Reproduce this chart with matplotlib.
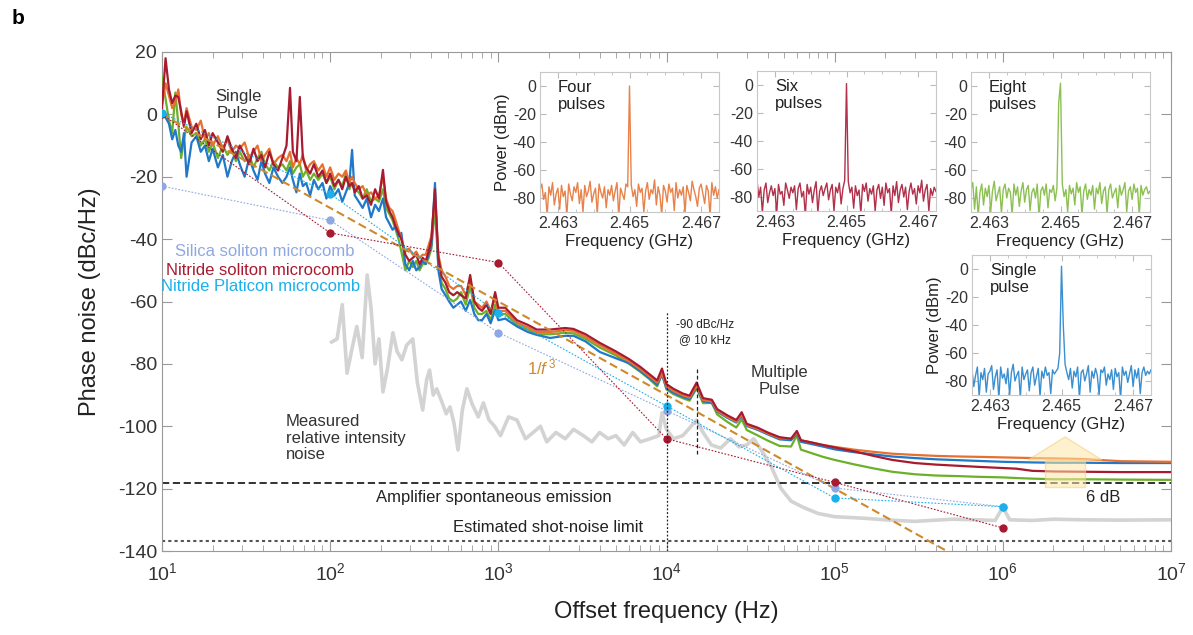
import numpy as np
import matplotlib
matplotlib.use("Agg")
import matplotlib.pyplot as plt
from matplotlib.patches import Polygon, Rectangle
from matplotlib.ticker import LogLocator, NullFormatter, MultipleLocator

plt.rcParams['font.family'] = ['Liberation Sans', 'DejaVu Sans']
plt.rcParams['mathtext.fontset'] = 'custom'
plt.rcParams['mathtext.rm'] = 'Liberation Sans'
plt.rcParams['mathtext.it'] = 'Liberation Sans:italic'
plt.rcParams['axes.unicode_minus'] = False

# offset frequency grid (Hz) shared by the four measured traces
freq = [10, 10.5, 11, 11.5, 12, 12.5, 13, 13.5, 14, 15,
        16, 17, 18, 19, 20, 21.5, 23, 24.5, 26, 27.5,
        29, 31, 33, 35, 37, 39, 41, 43.5, 46, 49,
        52, 55, 57.7, 60, 63, 66, 68.8, 72, 76, 80,
        85, 90, 95, 100, 106, 112, 118, 124, 130, 135,
        140, 148, 156, 165, 175, 185, 195, 206, 215, 225,
        235, 245, 255, 265, 280, 295, 310, 325, 340, 355,
        370, 385, 400, 420, 440, 460, 485, 510, 540, 570,
        600, 640, 680, 720, 760, 800, 850, 900, 957, 1000,
        1100, 1290, 1500, 1690, 2030, 2500, 2800, 3300, 4020, 5000,
        6000, 7000, 8000, 8800, 9400, 10000, 11000, 12500, 13700, 15100,
        16500, 18600, 20000, 23000, 26000, 28000, 30000, 35000, 40000, 47000,
        55000, 59600, 63000, 70000, 85000, 1e5, 1.3e5, 1.7e5, 2.2e5, 3e5,
        4e5, 5.5e5, 7e5, 1e6, 1.2e6, 1.5e6, 2e6, 3e6, 5e6, 1e7]

# single pulse (blue)
pn_single = [1, -1, -3, -8, -5, -10, -12, -6, -20, -9,
             -7, -12, -10, -15, -11, -17, -13, -20, -15, -12,
             -16, -20, -14, -18, -21, -15, -19, -22, -17, -20,
             -22, -20, -17, -21, -25, -19, -23, -22, -26, -21,
             -24, -22, -27, -23, -26, -24, -28, -25, -22, -11.4,
             -26, -28, -30, -27, -33, -29, -31, -27, -33, -35,
             -37, -36, -39, -38, -48, -50, -47, -50, -49, -47,
             -48, -45, -42, -22, -50, -56, -58, -60, -62, -61,
             -60, -63, -59.5, -64, -66, -66, -64, -67, -62.7, -66,
             -65.5, -68, -69.8, -70.7, -71.7, -71, -71, -72.8, -76.2, -78.2,
             -79.8, -82.3, -84.8, -86.7, -83.5, -87.8, -89.3, -90.6, -91.3, -87.5,
             -92, -92.5, -95.3, -97.3, -98.8, -96.8, -99.9, -101.2, -102.6, -104.2,
             -104.5, -102.5, -105, -105.5, -106.5, -107.4, -108.3, -109, -109.7, -110.2,
             -110.6, -110.9, -111.1, -111.4, -111.5, -111.6, -111.7, -111.7, -111.8, -111.8]

# four pulses (orange)
pn_four = [3, 10, 6, 2, 4, 8, 0, -3, 2, -4,
           -5, -2, -8, -6, -10, -7, -11, -8, -12, -10,
           -11, -9, -14, -12, -10, -15, -13, -11, -16, -14,
           -13, -15, -12, -17, -14, -16, -13, -18, -16, -15,
           -18, -16, -20, -17, -21, -19, -20, -18, -22, -20,
           -22, -24, -23, -26, -25, -27, -26, -20, -27, -30,
           -31, -34, -37, -40, -44, -43, -45, -44, -46, -45,
           -45, -42, -39, -27, -45, -50, -52, -55, -56, -55,
           -55, -58, -53, -60, -61, -62, -60, -63, -59, -63,
           -63, -66.8, -68.3, -69.8, -69.8, -69.2, -69.4, -71.3, -74, -76.7,
           -79.2, -81.7, -84.2, -86, -83, -87.2, -88.7, -90.1, -90.8, -87,
           -91.6, -92, -95, -97, -98.5, -96.3, -99.6, -100.9, -102.3, -103.8,
           -104, -102, -104.5, -105, -106, -106.6, -107.5, -108.2, -108.8, -109.2,
           -109.5, -109.7, -109.8, -110, -110.1, -110.2, -110.3, -110.5, -111.2, -111.4]

# six pulses (dark red)
pn_six = [2, 18, 8, 3.6, 6, 5.6, 1, -4, 1, -6,
          -3, -8, -5, -10, -6, -9, -12, -7, -11, -14,
          -10, -13, -16, -11, -15, -13, -17, -12, -16, -18,
          -14, -10, 8.5, -12, -15, 5.6, -14, -17, -19, -16,
          -20, -18, -22, -19, -23, -21, -24, -20, -23, -22,
          -25, -23, -27, -26, -29, -24, -27, -17.8, -28, -31,
          -33, -36, -38, -40, -45, -47, -46, -45, -48, -46,
          -47, -44, -40, -24, -46, -52, -54, -57, -58, -57,
          -58, -59, -51.5, -60, -62, -63, -61, -64, -57, -62,
          -62, -66, -67.5, -69, -69, -68.5, -68.8, -70.5, -73.3, -76,
          -78.5, -81, -83.5, -85.3, -81.5, -86.5, -88, -89.5, -90.2, -86,
          -91, -91.5, -94.5, -96.5, -98, -95.5, -99.2, -100.5, -102, -103.5,
          -104, -101.5, -104.5, -105, -106, -106.8, -108, -109.5, -110.8, -111.8,
          -112.3, -112.7, -113, -113.4, -113.6, -114.3, -114.5, -114.6, -114.7, -114.7]

# eight pulses (green)
pn_eight = [12, 5, -2, -6, 7, -3, -14, -8, -4, -7,
            -6, -10, -8, -12, -9, -14, -10, -13, -11, -15,
            -12, -15, -13, -17, -14, -12, -16, -18, -15, -17,
            -16, -18, -15, -19, -17, -16, -20, -18, -21, -19,
            -21, -19, -22, -20, -24, -21, -23, -19, -24, -22,
            -24, -25, -27, -24, -28, -27, -28, -24, -30, -32,
            -34, -37, -40, -44, -50, -47, -49, -47, -50, -48,
            -48, -46, -43, -30, -49, -54, -56, -59, -60, -59,
            -57, -61, -55, -62, -64, -64, -63, -66, -61, -64,
            -64, -67.5, -69, -70.5, -70.5, -70, -70.2, -72, -74.8, -77.3,
            -80, -82.6, -85.1, -87.2, -83.2, -88.2, -89.7, -91, -91.8, -87.8,
            -92.6, -92.5, -96.2, -98.6, -100.4, -97.8, -101.2, -103, -104.6, -106.3,
            -106.5, -103, -107.5, -108.3, -109.8, -110.8, -112.2, -113.5, -114.6, -115.4,
            -115.8, -116, -116.2, -116.4, -116.6, -116.8, -117, -117, -117.1, -117.2]

# measured relative intensity noise (grey)
rin_freq = [102, 110, 118, 126, 135, 144, 155, 166, 175, 185,
            195, 206, 220, 236, 250, 267, 285, 310, 330, 355,
            375, 390, 410, 430, 460, 490, 516, 545, 576, 610,
            650, 700, 760, 815, 880, 950, 1030, 1150, 1290, 1450,
            1610, 1780, 1940, 2200, 2500, 2800, 3200, 3600, 4000, 4500,
            5000, 5600, 6300, 7000, 8000, 9000, 9400, 10000, 11000, 12500,
            14000, 15100, 16500, 18500, 21000, 24000, 27000, 30000, 33000, 37000,
            42000, 48000, 55000, 65000, 80000, 1e5, 1.5e5, 2e5, 3e5, 5e5,
            7e5, 9e5, 1e6, 1.1e6, 1.5e6, 2e6, 3e6, 5e6, 1e7]
rin = [-73, -72, -61, -83, -75, -68, -78, -51.5, -62, -80,
       -72, -89, -81, -70, -76, -78.7, -74, -72, -86, -94.8,
       -85, -82, -90, -88, -92, -96, -93.8, -99, -107.6, -95,
       -88, -93, -97, -92.5, -98, -100, -103, -97, -98, -104,
       -102, -100, -105, -102, -104, -101, -103, -105, -102, -104,
       -103, -106, -102, -105, -104, -103, -95.7, -101, -104, -103,
       -100, -98, -102, -106, -107, -104, -106.6, -106, -104, -108,
       -113, -120, -124, -126, -128, -129, -129.5, -130, -130.5, -129.8,
       -130, -130.2, -126, -130, -130.2, -129.8, -130, -130.1, -130]

# literature comparison points
cmp_freq = [10, 100, 1000, 1e4, 1e5, 1e6]
silica_soliton = [-23, -34, -70, -95, -119.8, -125.8]
nitride_soliton = [0, -38, -47.5, -104, -118, -132.6]
nitride_platicon = [0.5, -25.5, -63.7, -93.5, -123, -125.8]

# 1/f^3 guide
f3_freq = [10, 1e6]
f3_level = [0, -150]

ase_level = -118.2
shot_level = -136.8
vline_freq = [1e4, 1.51e4]
vline_top = [-63, -81]
vline_bottom = [-140, -109]

decades = [10, 1e2, 1e3, 1e4, 1e5, 1e6, 1e7]

# inset spectra: offset from 2.465 GHz in kHz
offset_khz = [-2500, -2450, -2400, -2350, -2300, -2250, -2200, -2150, -2100, -2050,
              -2000, -1950, -1900, -1850, -1800, -1750, -1700, -1650, -1600, -1550,
              -1500, -1450, -1400, -1350, -1300, -1250, -1200, -1150, -1100, -1050,
              -1000, -950, -900, -850, -800, -750, -700, -650, -600, -550,
              -500, -450, -400, -350, -300, -250, -200, -150, -100, -50,
              0, 50, 100, 150, 200, 250, 300, 350, 400, 450,
              500, 550, 600, 650, 700, 750, 800, 850, 900, 950,
              1000, 1050, 1100, 1150, 1200, 1250, 1300, 1350, 1400, 1450,
              1500, 1550, 1600, 1650, 1700, 1750, 1800, 1850, 1900, 1950,
              2000, 2050, 2100, 2150, 2200, 2250, 2300, 2350, 2400, 2450,
              2500]

spec_four = [-74, -70, -81, -76, -92, -72, -78, -69, -85, -77,
             -73, -88, -71, -79, -75, -93, -70, -77, -82, -72,
             -76, -69, -84, -74, -90, -71, -79, -75, -68, -83,
             -77, -73, -91, -70, -76, -80, -72, -87, -74, -78,
             -71, -82, -75, -69, -93, -73, -77, -81, -70, -72,
             0, -71, -79, -74, -86, -70, -76, -73, -90, -75,
             -69, -81, -74, -77, -67, -85, -72, -78, -92, -71,
             -75, -83, -70, -76, -73, -89, -69, -80, -74, -78,
             -72, -91, -71, -76, -82, -68, -74, -79, -86, -73,
             -70, -77, -84, -71, -75, -93, -69, -78, -72, -80,
             -74]
spec_six = [-68, -80, -73, -91, -75, -70, -84, -77, -72, -79,
            -74, -92, -71, -78, -76, -86, -70, -75, -81, -73,
            -77, -72, -89, -74, -70, -80, -76, -93, -71, -78,
            -73, -84, -75, -69, -91, -76, -72, -79, -74, -70,
            -82, -75, -71, -90, -73, -77, -70, -85, -74, -68,
            1, -69, -77, -73, -88, -72, -79, -75, -92, -71,
            -76, -70, -83, -74, -78, -72, -90, -75, -71, -81,
            -73, -86, -70, -77, -74, -92, -72, -79, -69, -84,
            -75, -71, -80, -73, -89, -76, -70, -78, -74, -85,
            -72, -77, -68, -83, -75, -71, -90, -74, -79, -73,
            -76]
spec_eight = [-74, -69, -88, -72, -93, -76, -70, -85, -73, -79,
              -71, -90, -75, -68, -82, -77, -72, -91, -74, -70,
              -80, -73, -76, -92, -70, -78, -72, -86, -75, -69,
              -83, -74, -71, -89, -76, -73, -80, -70, -94, -75,
              -72, -78, -70, -87, -74, -76, -71, -82, -73, -12,
              2, -70, -79, -74, -90, -71, -77, -73, -85, -69,
              -76, -72, -92, -75, -70, -81, -74, -78, -71, -88,
              -73, -77, -69, -84, -75, -72, -91, -74, -70, -80,
              -76, -73, -87, -71, -78, -74, -69, -90, -75, -72,
              -81, -70, -76, -73, -92, -71, -78, -74, -72, -77,
              -75]
spec_single = [-72, -84, -76, -70, -91, -74, -79, -71, -88, -75,
               -73, -69, -86, -77, -72, -93, -70, -78, -75, -82,
               -71, -90, -74, -68, -80, -76, -73, -92, -70, -79,
               -75, -72, -87, -74, -70, -83, -77, -71, -91, -73,
               -78, -70, -76, -74, -89, -72, -75, -73, -71, -60,
               2, -40, -68, -74, -79, -71, -85, -73, -77, -70,
               -92, -74, -72, -80, -75, -69, -88, -73, -78, -71,
               -76, -90, -72, -74, -70, -83, -75, -79, -72, -86,
               -71, -77, -74, -93, -70, -76, -73, -81, -75, -69,
               -84, -72, -78, -71, -89, -74, -70, -76, -73, -75,
               -72]

c_blue = '#1f78c8'
c_orange = '#e8702f'
c_red = '#a81a30'
c_green = '#6cb02a'
c_cyan = '#1ab0ec'
c_lav = '#8fa8e3'
c_f3 = '#cd8a2d'
c_txt = '#333333'

fig = plt.figure(figsize=(11.93, 6.35), dpi=100)
ax = fig.add_axes([162 / 1193, 1 - 551 / 635, 1009 / 1193, 499 / 635])

ax.plot(rin_freq, rin, color='#d3d3d3', lw=2.6, zorder=1)
ax.axhline(ase_level, color='#222222', lw=1.3, ls=(0, (4, 2)), zorder=2)
ax.axhline(shot_level, color='#555555', lw=1.5, ls=(0, (1.5, 1.5)), zorder=2)

ax.plot(freq, pn_eight, color=c_green, lw=1.6, zorder=3)
ax.plot(freq, pn_single, color=c_blue, lw=1.6, zorder=3)
ax.plot(freq, pn_four, color=c_orange, lw=1.6, zorder=3)
ax.plot(freq, pn_six, color=c_red, lw=1.6, zorder=3)

ax.plot(f3_freq, f3_level, color=c_f3, lw=1.5, ls=(0, (4, 2)), zorder=4)

for vals, col in [(silica_soliton, c_lav), (nitride_soliton, c_red), (nitride_platicon, c_cyan)]:
    ax.plot(cmp_freq, vals, color=col, lw=0.8, ls=(0, (1.5, 1.5)), marker='o', ms=6,
            mec='none', zorder=5)

ax.vlines(vline_freq[0], vline_bottom[0], vline_top[0], color='#222222', lw=0.9,
          ls=(0, (1.5, 1.5)), zorder=6)
ax.vlines(vline_freq[1], vline_bottom[1], vline_top[1], color='#222222', lw=0.9,
          ls=(0, (3, 2)), zorder=6)

# 6 dB call-out (axes fraction)
tri = [(0.8583, 0.1824), (0.895, 0.2285), (0.9316, 0.1824)]
rect_xy, rect_w, rect_h = (0.8751, 0.1283), 0.0397, 0.0541
ax.add_patch(Polygon(tri, closed=True, transform=ax.transAxes, fc='#fde6a8', ec='#f8cf73',
                     alpha=0.55, lw=1, zorder=7))
ax.add_patch(Rectangle(rect_xy, rect_w, rect_h, transform=ax.transAxes, fc='#fde6a8',
                       ec='#f8cf73', alpha=0.55, lw=1, zorder=7))

ax.set_xscale('log')
ax.set_xlim(10, 1e7)
ax.set_ylim(-140, 20)
ax.set_yticks(range(-140, 21, 20))
ax.set_xticks(decades)
ax.xaxis.set_minor_locator(LogLocator(base=10, subs=np.arange(2, 10), numticks=100))
ax.xaxis.set_minor_formatter(NullFormatter())
ax.tick_params(which='both', direction='in', top=True, right=True, color='#999999',
               labelcolor=c_txt, labelsize=14)
ax.tick_params(which='major', length=7)
ax.tick_params(which='minor', length=4)
ax.tick_params(axis='x', pad=8)
for s in ax.spines.values():
    s.set_color('#999999')
ax.set_xlabel('Offset frequency (Hz)', fontsize=17, color='#222222', labelpad=12)
ax.set_ylabel('Phase noise (dBc/Hz)', fontsize=17, color='#222222', labelpad=12)

ax.text(28.3, 3, 'Single\nPulse', ha='center', va='center', fontsize=12, color=c_txt,
        linespacing=1.1)
ax.text(4.72e4, -85.5, 'Multiple\nPulse', ha='center', va='center', fontsize=12,
        color=c_txt, linespacing=1.1)
ax.text(54.6, -103.8, 'Measured\nrelative intensity\nnoise', ha='left', va='center',
        fontsize=12, color=c_txt, linespacing=1.1)
ax.text(942, -122.7, 'Amplifier spontaneous emission', ha='center', va='center',
        fontsize=12, color='#222222')
ax.text(1970, -132.6, 'Estimated shot-noise limit', ha='center', va='center',
        fontsize=12, color='#222222')
ax.text(3.94e6, -122.7, '6 dB', ha='center', va='center', fontsize=12, color='#222222')
ax.text(1.69e4, -70, '-90 dBc/Hz\n@ 10 kHz', ha='center', va='center', fontsize=8.5,
        color='#222222', linespacing=1.3)
ax.text(1815, -81.3, r'1/$\mathit{f}^{\,3}$', ha='center', va='center', fontsize=12,
        color=c_f3)
ax.text(40.9, -44.1, 'Silica soliton microcomb', ha='center', va='center', fontsize=12,
        color=c_lav)
ax.text(38.3, -49.9, 'Nitride soliton microcomb', ha='center', va='center', fontsize=12,
        color=c_red)
ax.text(38.6, -55.3, 'Nitride Platicon microcomb', ha='center', va='center', fontsize=12,
        color=c_cyan)

fig.text(12 / 1193, 1 - 18 / 635, 'b', fontsize=15, fontweight='bold', va='center')


def add_inset(left_px, top_px, spec, color, label, ylabel):
    w, h = 179, 140
    a = fig.add_axes([left_px / 1193, 1 - (top_px + h) / 635, w / 1193, h / 635])
    x = [2.465 + o / 1e6 for o in offset_khz]
    a.plot(x, spec, color=color, lw=1)
    a.set_xlim(2.4625, 2.4675)
    a.set_ylim(-90, 10)
    a.set_xticks([2.463, 2.465, 2.467])
    a.set_xticklabels(['2.463', '2.465', '2.467'])
    a.xaxis.set_minor_locator(MultipleLocator(0.0005))
    a.set_yticks([0, -20, -40, -60, -80])
    a.tick_params(which='both', direction='in', top=True, right=True, color='#bbbbbb',
                  labelcolor=c_txt, labelsize=11.5, pad=3)
    a.tick_params(which='major', length=4)
    a.tick_params(which='minor', length=2.5)
    for s in a.spines.values():
        s.set_color('#c8c8c8')
    a.set_xlabel('Frequency (GHz)', fontsize=12, color='#222222', labelpad=2)
    if ylabel:
        a.set_ylabel('Power (dBm)', fontsize=12, color='#222222', labelpad=2)
    a.text(0.1, 0.94, label, transform=a.transAxes, ha='left', va='top', fontsize=12,
           color='#222222', linespacing=1.1)
    return a


add_inset(540, 72, spec_four, '#e8824a', 'Four\npulses', True)
add_inset(757, 71, spec_six, '#b2304a', 'Six\npulses', False)
add_inset(971, 72, spec_eight, '#8cc152', 'Eight\npulses', False)
add_inset(972, 255, spec_single, '#3a8fd0', 'Single\npulse', True)

fig.savefig('out.png', dpi=100)
